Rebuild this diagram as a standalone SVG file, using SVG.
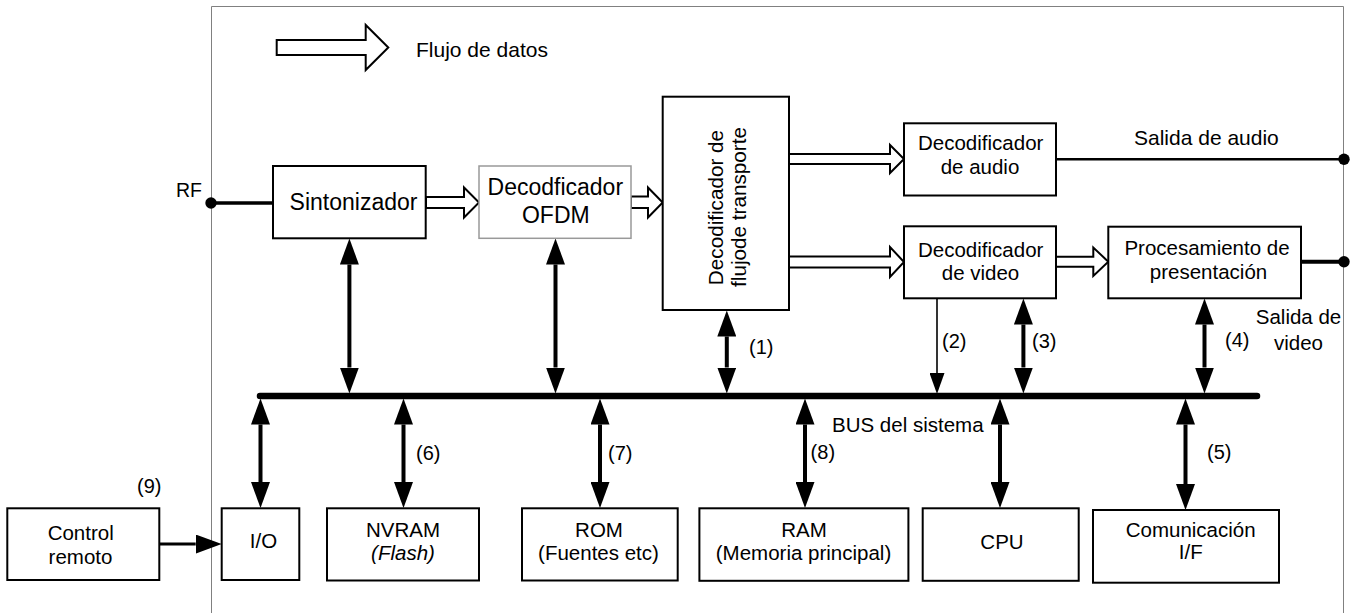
<svg xmlns="http://www.w3.org/2000/svg" width="1356" height="613" viewBox="0 0 1356 613">
<style>
text{font-family:"Liberation Sans",Arial,sans-serif;font-size:20.5px;fill:#000}
.c{text-anchor:middle}
.big{font-size:23px}
.box{fill:#fff;stroke:#000;stroke-width:2}
.grey{fill:#fff;stroke:#999;stroke-width:1.5}
.hol{fill:#fff;stroke:#000;stroke-width:2;stroke-linejoin:miter}
.dbl{stroke:#000;stroke-width:4;fill:none;marker-start:url(#ah);marker-end:url(#ah)}
.thin{stroke:#000;stroke-width:1.6;fill:none;marker-end:url(#ahs)}
.wire{stroke:#000;fill:none}
</style>
<defs>
<marker id="ah" viewBox="0 0 26 19" refX="0" refY="9.5" markerWidth="26" markerHeight="19" markerUnits="userSpaceOnUse" orient="auto-start-reverse"><path d="M0,0 L26,9.5 L0,19 z" fill="#000"/></marker>
<marker id="ahs" viewBox="0 0 21 15" refX="0" refY="7.5" markerWidth="21" markerHeight="15" markerUnits="userSpaceOnUse" orient="auto"><path d="M0,0 L21,7.5 L0,15 z" fill="#000"/></marker>
</defs>
<rect width="1356" height="613" fill="#fff"/>
<path d="M211.5,613 V6.5 H1343.5 V613" fill="none" stroke="#808080" stroke-width="1"/>

<g id="legend">
<polygon class="hol" points="276.7,40 365.7,40 365.7,25 388.3,47.5 365.7,70 365.7,55 276.7,55"/>
<text x="416" y="57.3" style="font-size:21px">Flujo de datos</text>
</g>

<g id="connectors">
<line class="wire" x1="211" y1="203" x2="273" y2="203" stroke-width="3.5"/>
<circle cx="211" cy="203" r="5.7" fill="#000"/>
<text x="176" y="196.7" style="font-size:19.5px">RF</text>
<polygon class="hol" points="426,197 464,197 464,187.5 479,202.5 464,217.5 464,208 426,208"/>
<polygon class="hol" points="631,196.5 648,196.5 648,187.5 662.7,202.5 648,217.5 648,208 631,208"/>
<polygon class="hol" points="789,154 890,154 890,145 904,159 890,173 890,164 789,164"/>
<polygon class="hol" points="788,256.5 890,256.5 890,247 904,262 890,277 890,267.5 788,267.5"/>
<polygon class="hol" points="1056,256.7 1093.3,256.7 1093.3,247.5 1108.3,261.7 1093.3,276 1093.3,266.7 1056,266.7"/>
<line class="wire" x1="1056" y1="159.3" x2="1344" y2="159.3" stroke-width="2.5"/>
<circle cx="1344" cy="159.3" r="5.7" fill="#000"/>
<line class="wire" x1="1301" y1="261.7" x2="1344" y2="261.7" stroke-width="4"/>
<circle cx="1344" cy="261.7" r="5.7" fill="#000"/>
<line x1="260" y1="396" x2="1257" y2="396" stroke="#000" stroke-width="6.5" stroke-linecap="round"/>
<line class="dbl" x1="349.4" y1="264.5" x2="349.4" y2="367.5"/>
<line class="dbl" x1="555.5" y1="264.5" x2="555.5" y2="367.5"/>
<line class="dbl" x1="726.8" y1="336.5" x2="726.8" y2="367.5"/>
<line class="thin" x1="937" y1="298" x2="937" y2="373"/>
<line class="dbl" x1="1023.4" y1="324.5" x2="1023.4" y2="367.5"/>
<line class="dbl" x1="1204.5" y1="324.5" x2="1204.5" y2="367.5"/>
<line class="dbl" x1="260.5" y1="424.5" x2="260.5" y2="482"/>
<line class="dbl" x1="403.5" y1="424.5" x2="403.5" y2="482"/>
<line class="dbl" x1="600" y1="424.5" x2="600" y2="482"/>
<line class="dbl" x1="805" y1="424.5" x2="805" y2="482"/>
<line class="dbl" x1="1000" y1="424.5" x2="1000" y2="482"/>
<line class="dbl" x1="1185.5" y1="424.5" x2="1185.5" y2="484"/>
<line class="wire" x1="159" y1="544" x2="195.7" y2="544" stroke-width="2.8" marker-end="url(#ah)"/>
<text x="1134" y="145" style="font-size:21px">Salida de audio</text>
<text class="c" x="1298.5" y="324.3">Salida de</text>
<text class="c" x="1298.5" y="350">video</text>
<text x="749" y="354" style="font-size:20px">(1)</text>
<text x="942" y="347.5" style="font-size:20px">(2)</text>
<text x="1032" y="347.5" style="font-size:20px">(3)</text>
<text x="1225" y="346.5" style="font-size:20px">(4)</text>
<text x="1207" y="458.5" style="font-size:20px">(5)</text>
<text x="416" y="460" style="font-size:20px">(6)</text>
<text x="608" y="460" style="font-size:20px">(7)</text>
<text x="810.6" y="459" style="font-size:20px">(8)</text>
<text x="137" y="493" style="font-size:20px">(9)</text>
<text x="832" y="431.7">BUS del sistema</text>
</g>

<g id="sintonizador">
<rect class="box" x="273" y="166" width="152.7" height="72.3"/>
<text class="c big" x="353.5" y="210">Sintonizador</text>
</g>
<g id="ofdm">
<rect class="grey" x="479" y="166" width="152" height="72.3"/>
<text class="c big" x="555.3" y="195">Decodficador</text>
<text class="c big" x="555.8" y="223.3">OFDM</text>
</g>
<g id="transporte">
<rect class="box" x="662.7" y="96.7" width="126.3" height="213.3"/>
<text class="c" transform="translate(723,207.5) rotate(-90)" style="font-size:20.7px">Decodificador de</text>
<text class="c" transform="translate(746,207) rotate(-90)" style="font-size:20.7px">flujode transporte</text>
</g>
<g id="audio">
<rect class="box" x="904" y="123.3" width="152" height="72.2"/>
<text class="c" x="980.7" y="150">Decodificador</text>
<text class="c" x="980" y="174.3">de audio</text>
</g>
<g id="video">
<rect class="box" x="904" y="226.3" width="152" height="72"/>
<text class="c" x="980.7" y="256.7">Decodificador</text>
<text class="c" x="980.5" y="280">de video</text>
</g>
<g id="presentacion">
<rect class="box" x="1108.3" y="226.7" width="192.7" height="71.6"/>
<text class="c" x="1207" y="255">Procesamiento de</text>
<text class="c" x="1208.5" y="279">presentación</text>
</g>
<g id="control">
<rect class="box" x="7.3" y="508.3" width="152" height="71.7"/>
<text class="c" x="80.7" y="540">Control</text>
<text class="c" x="80.5" y="564">remoto</text>
</g>
<g id="io">
<rect class="box" x="221.7" y="508.3" width="77.6" height="71.7"/>
<text class="c" x="263.5" y="548">I/O</text>
</g>
<g id="nvram">
<rect class="box" x="327" y="508.3" width="152" height="72.2"/>
<text class="c" x="403" y="537">NVRAM</text>
<text class="c" x="403" y="560" font-style="italic">(Flash)</text>
</g>
<g id="rom">
<rect class="box" x="522" y="508.3" width="155.7" height="72.2"/>
<text class="c" x="599" y="537">ROM</text>
<text class="c" x="598.5" y="560">(Fuentes etc)</text>
</g>
<g id="ram">
<rect class="box" x="699.4" y="508.3" width="209" height="72.5"/>
<text class="c" x="804" y="537">RAM</text>
<text class="c" x="803.5" y="560">(Memoria principal)</text>
</g>
<g id="cpu">
<rect class="box" x="922.7" y="508.3" width="156" height="72.5"/>
<text class="c" x="1002" y="549.3">CPU</text>
</g>
<g id="comunicacion">
<rect class="box" x="1093" y="510" width="186" height="72.7"/>
<text class="c" x="1190.7" y="537.3">Comunicación</text>
<text class="c" x="1190.8" y="559.3">I/F</text>
</g>
</svg>
